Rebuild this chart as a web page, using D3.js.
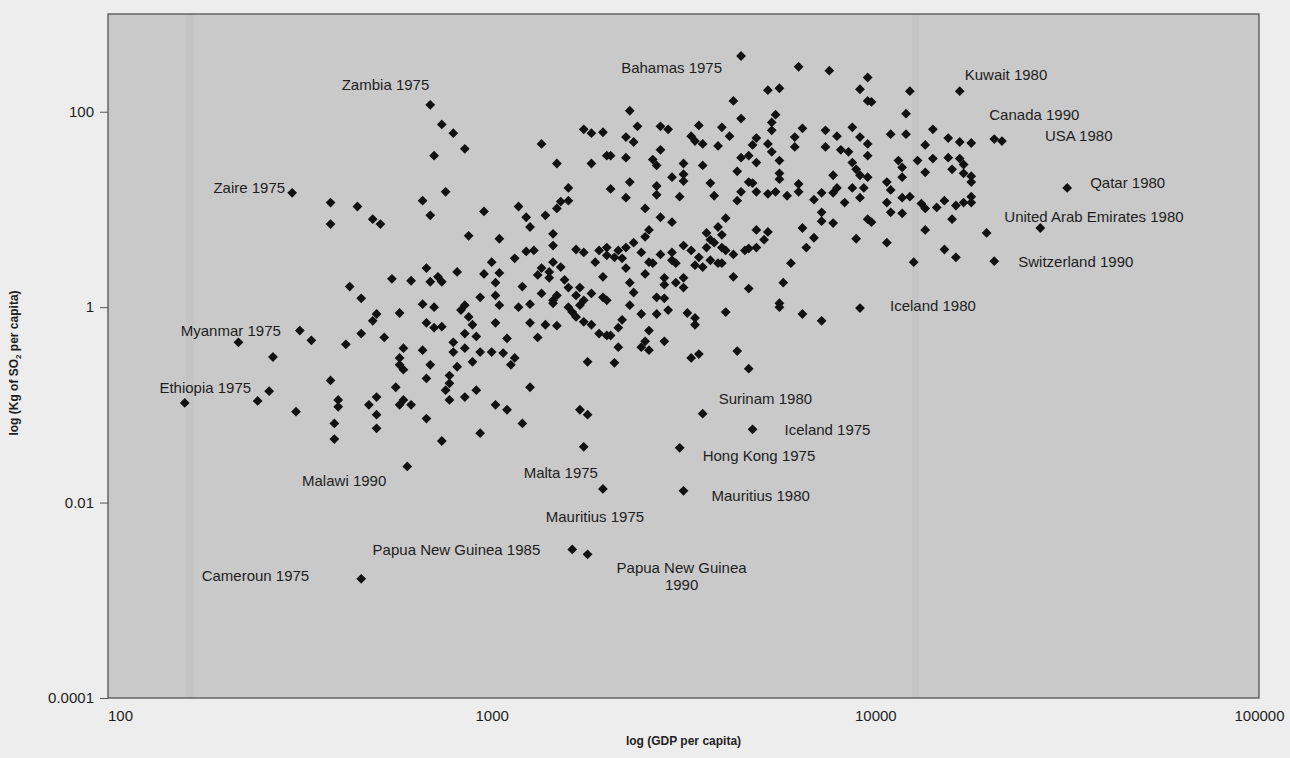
<!DOCTYPE html>
<html>
<head>
<meta charset="utf-8">
<script src="https://cdn.jsdelivr.net/npm/d3@7/dist/d3.min.js"></script>
<style>
  html, body { margin: 0; padding: 0; background: #ededed; }
  svg { display: block; }
  text { font-family: "Liberation Sans", Arial, Helvetica, sans-serif; fill: #1e1e1e; }
</style>
</head>
<body>
<svg id="chart" width="1290" height="758"></svg>
<script>
// log10 GDP per capita, log10 kg SO2 per capita, one pair per country-year
const countryYears = [
  [2.48,1.17],[2.58,1.07],[2.65,1.03],[2.69,0.90],[2.84,2.07],[2.87,1.87],[2.90,1.78],[2.93,1.62],
  [2.85,1.55],[3.13,1.67],[3.17,1.47],[3.24,1.82],[3.26,1.78],[3.29,1.79],[3.30,1.55],[3.26,1.47],
  [3.20,1.22],[3.31,1.21],[2.88,1.18],[2.82,1.09],[2.84,0.94],[2.98,0.98],[3.07,1.03],[3.09,0.92],
  [3.14,0.94],[3.18,1.08],[3.20,1.09],[3.17,1.01],[3.65,2.57],[3.80,2.46],[3.88,2.42],[3.72,2.22],
  [3.75,2.24],[3.63,2.11],[3.36,2.01],[3.65,1.93],[3.74,1.97],[3.38,1.85],[3.44,1.85],[3.46,1.82],
  [3.54,1.86],[3.60,1.84],[3.73,1.89],[3.73,1.81],[3.81,1.83],[3.87,1.81],[3.90,1.75],[3.35,1.74],
  [3.37,1.69],[3.52,1.75],[3.53,1.70],[3.55,1.67],[3.59,1.65],[3.62,1.75],[3.69,1.73],[3.68,1.66],
  [3.72,1.67],[3.79,1.74],[3.79,1.64],[3.87,1.64],[3.91,1.61],[3.31,1.55],[3.35,1.53],[3.44,1.61],
  [3.73,1.59],[3.42,1.51],[3.43,1.45],[3.50,1.47],[3.55,1.45],[3.65,1.53],[3.67,1.55],[3.69,1.48],
  [3.75,1.50],[3.64,1.39],[3.47,1.33],[3.50,1.36],[3.50,1.29],[3.57,1.27],[3.75,1.37],[3.75,1.31],
  [3.67,1.28],[3.68,1.27],[3.65,1.18],[3.69,1.18],[3.72,1.16],[3.74,1.18],[3.77,1.14],[3.80,1.26],
  [3.80,1.18],[3.89,1.35],[3.86,1.17],[3.89,1.17],[3.90,1.22],[3.92,1.07],[3.36,1.28],[3.43,1.24],
  [3.43,1.15],[3.49,1.13],[3.35,1.12],[3.58,1.14],[3.64,1.09],[3.40,1.01],[3.44,0.92],[3.61,0.91],
  [3.84,1.10],[3.86,0.97],[3.98,2.35],[3.96,2.23],[4.09,2.21],[4.22,2.21],[3.98,2.11],[3.99,2.10],
  [4.08,1.98],[3.94,1.84],[3.96,1.74],[4.04,1.77],[4.08,1.77],[4.15,1.82],[4.19,1.73],[4.22,1.69],
  [4.25,1.68],[4.31,1.72],[4.33,1.70],[3.98,1.67],[3.98,1.55],[4.13,1.66],[3.93,1.59],[3.94,1.48],
  [3.95,1.41],[4.06,1.50],[4.07,1.43],[4.11,1.50],[4.15,1.52],[4.19,1.53],[4.22,1.52],[4.23,1.46],
  [4.20,1.41],[4.13,1.38],[4.23,1.37],[4.25,1.34],[4.25,1.28],[3.96,1.35],[3.98,1.33],[4.03,1.28],
  [4.07,1.33],[3.94,1.22],[3.97,1.22],[4.04,1.20],[4.09,1.13],[4.07,1.12],[4.03,1.07],[3.96,1.12],
  [4.12,1.06],[4.13,1.01],[4.16,1.02],[4.18,1.09],[4.21,1.04],[4.23,1.07],[4.25,1.13],[4.25,1.07],
  [4.50,1.22],[4.04,0.97],[4.07,0.96],[3.98,0.90],[4.20,0.90],[3.99,0.87],[4.13,0.79],[4.29,0.76],
  [4.43,0.81],[3.95,0.70],[4.03,0.66],[4.18,0.59],[4.21,0.51],[4.10,0.46],[4.31,0.47],[3.96,-0.01],
  [3.47,0.87],[3.59,0.82],[3.56,0.76],[3.57,0.69],[3.60,0.74],[3.58,0.66],[3.56,0.61],[3.60,0.61],
  [3.61,0.58],[3.63,0.54],[3.41,0.79],[3.40,0.72],[3.37,0.66],[3.35,0.61],[3.33,0.58],[3.32,0.51],
  [3.34,0.50],[3.39,0.56],[3.41,0.46],[3.42,0.45],[3.44,0.54],[3.47,0.56],[3.47,0.48],[3.48,0.45],
  [3.50,0.63],[3.52,0.58],[3.54,0.51],[3.53,0.43],[3.55,0.41],[3.57,0.48],[3.59,0.45],[3.60,0.45],
  [3.69,0.79],[3.72,0.77],[3.71,0.69],[3.69,0.61],[3.67,0.60],[3.66,0.58],[3.81,0.81],[3.86,0.88],
  [3.89,0.86],[3.84,0.71],[3.82,0.61],[3.78,0.45],[3.35,0.40],[3.40,0.34],[3.45,0.30],[3.48,0.25],
  [3.50,0.30],[3.50,0.20],[3.45,0.23],[3.36,0.25],[3.37,0.15],[3.43,0.10],[3.45,0.09],[3.63,0.31],
  [3.67,0.19],[3.76,0.25],[3.75,0.04],[3.75,0.00],[3.36,0.02],[3.39,-0.07],[3.43,-0.07],[3.46,-0.03],
  [3.51,-0.06],[3.53,-0.11],[3.61,-0.05],[3.81,-0.07],[3.86,-0.14],[3.34,-0.13],[3.33,-0.21],[3.41,-0.24],
  [3.53,-0.18],[3.31,-0.29],[3.40,-0.35],[3.39,-0.41],[3.41,-0.44],[3.45,-0.35],[3.33,-0.41],[3.52,-0.52],
  [3.54,-0.48],[3.64,-0.45],[3.67,-0.63],[3.32,-0.57],[3.55,-1.09],[2.71,0.85],[2.94,0.73],[3.02,0.70],
  [3.10,0.82],[3.16,0.75],[3.16,0.63],[3.09,0.57],[3.11,0.58],[3.06,0.50],[3.22,0.59],[3.24,0.56],
  [3.28,0.58],[3.30,0.61],[3.30,0.53],[3.27,0.46],[3.16,0.46],[3.18,0.41],[3.13,0.40],[3.12,0.33],
  [3.15,0.36],[3.15,0.30],[3.19,0.28],[3.20,0.20],[3.23,0.20],[3.29,0.31],[3.00,0.46],[2.83,0.40],
  [2.74,0.29],[2.79,0.27],[2.86,0.31],[2.84,0.26],[2.87,0.26],[2.91,0.36],[2.98,0.34],[3.02,0.35],
  [3.01,0.25],[3.08,0.21],[2.97,0.10],[3.01,0.12],[3.02,0.02],[3.07,0.00],[3.10,0.03],[3.13,0.14],
  [3.16,0.07],[3.17,0.12],[3.16,0.04],[3.22,0.12],[3.24,0.07],[3.26,0.14],[3.29,0.10],[3.30,0.07],
  [3.23,0.02],[3.20,0.00],[3.21,-0.05],[3.22,-0.10],[2.82,0.03],[2.85,0.00],[2.93,0.02],[2.92,-0.03],
  [2.76,-0.06],[2.70,-0.07],[2.94,-0.10],[2.95,-0.18],[2.83,-0.16],[2.85,-0.21],[2.87,-0.20],[3.01,-0.16],
  [3.10,-0.16],[3.14,-0.18],[3.17,-0.19],[3.24,-0.15],[3.26,-0.18],[3.28,-0.27],[3.30,-0.29],[2.93,-0.27],
  [2.96,-0.30],[3.04,-0.32],[3.12,-0.31],[2.72,-0.31],[2.77,-0.42],[2.82,-0.44],[2.90,-0.36],[2.93,-0.42],
  [2.90,-0.46],[2.97,-0.46],[3.00,-0.46],[3.03,-0.47],[3.06,-0.52],[3.05,-0.59],[2.76,-0.52],[2.76,-0.59],
  [2.77,-0.64],[2.84,-0.59],[2.95,-0.56],[2.91,-0.61],[2.83,-0.73],[2.89,-0.70],[2.89,-0.78],[2.88,-0.85],
  [2.75,-0.82],[2.96,-0.85],[3.10,-0.82],[3.25,-0.56],[2.93,-0.92],[2.89,-0.95],[2.77,-0.95],[2.76,-1.00],
  [2.79,-1.00],[3.01,-1.00],[3.04,-1.05],[3.23,-1.05],[2.70,-0.92],[2.58,0.85],[2.63,0.21],[2.66,0.09],
  [2.69,-0.14],[2.66,-0.27],[2.62,-0.38],[2.50,-0.24],[2.53,-0.34],[2.34,-0.36],[2.43,-0.51],[2.58,-0.75],
  [2.42,-0.86],[2.39,-0.96],[2.20,-0.98],[2.60,-0.95],[2.60,-1.02],[2.49,-1.07],[2.68,-1.00],[2.59,-1.19],
  [2.59,-1.35],[2.70,-1.10],[2.70,-1.24],[2.66,-2.78],[2.83,-1.14],[2.87,-1.37],[2.97,-1.29],[3.08,-1.19],
  [3.25,-1.10],[3.24,-1.43],[2.78,-1.63],[3.29,-1.86],[3.21,-2.48],[3.25,-2.53],[3.68,-1.25],[3.49,-1.44],
  [3.50,-1.88]
];

// Named country-years: [text, logGdp, logSo2, anchor, dx, dy]
const annotations = [
  ["Zambia 1975", 2.84, 2.07, "end", -1, -20],
  ["Bahamas 1975", 3.65, 2.57, "end", -19, 11],
  ["Kuwait 1980", 4.22, 2.21, "start", 5, -17],
  ["Canada 1990", 4.31, 1.72, "start", -5, -25],
  ["USA 1980", 4.33, 1.70, "start", 43, -6],
  ["Qatar 1980", 4.50, 1.22, "start", 23, -5],
  ["United Arab Emirates 1980", 4.43, 0.81, "start", -36, -11],
  ["Switzerland 1990", 4.31, 0.47, "start", 24, 0],
  ["Iceland 1980", 3.96, -0.01, "start", 30, -3],
  ["Zaire 1975", 2.48, 1.17, "end", -7, -5],
  ["Myanmar 1975", 2.50, -0.24, "end", -19, 0],
  ["Ethiopia 1975", 2.42, -0.86, "end", -18, -4],
  ["Surinam 1980", 3.55, -1.09, "start", 16, -15],
  ["Iceland 1975", 3.68, -1.25, "start", 32, 0],
  ["Hong Kong 1975", 3.49, -1.44, "start", 23, 8],
  ["Malawi 1990", 2.78, -1.63, "end", -21, 14],
  ["Malta 1975", 3.29, -1.86, "end", -5, -16],
  ["Mauritius 1980", 3.50, -1.88, "start", 28, 5],
  ["Mauritius 1975", 3.29, -1.86, "middle", -8, 28],
  ["Papua New Guinea 1985", 3.21, -2.48, "end", -32, 0],
  ["Papua New Guinea", 3.25, -2.53, "middle", 94, 13],
  ["1990", 3.25, -2.53, "middle", 94, 30],
  ["Cameroun 1975", 2.66, -2.78, "end", -52, -3]
];

const gdpTicks = [100, 1000, 10000, 100000];
const so2Ticks = [0.0001, 0.01, 1, 100];
const xTitle = "log (GDP per capita)";

const svg = d3.select("#chart");
const plot = { left: 108, right: 1259, top: 14, bottom: 698 };

const x = d3.scaleLog().domain([100, 100000]).range([plot.left, plot.right]);
const y = d3.scaleLog().domain([0.0001, 1000]).range([plot.bottom, plot.top]);

// plot background
svg.append("rect")
  .attr("x", plot.left).attr("y", plot.top)
  .attr("width", plot.right - plot.left).attr("height", plot.bottom - plot.top)
  .attr("fill", "#c9c9c9");

// faint vertical bands in the printed panel
[[186, 8], [912, 7]].forEach(([bx, bw]) => {
  svg.append("rect")
    .attr("x", bx).attr("y", plot.top).attr("width", bw).attr("height", plot.bottom - plot.top)
    .attr("fill", "#b8b8b8").attr("opacity", 0.3);
});

// axes
const xAxis = d3.axisBottom(x).tickValues(gdpTicks).tickFormat(d3.format("d")).tickSize(0).tickPadding(12);
const yAxis = d3.axisLeft(y).tickValues(so2Ticks).tickFormat(d => String(d)).tickSize(8).tickPadding(6);

const gx = svg.append("g").attr("transform", `translate(0,${plot.bottom})`).call(xAxis);
const gy = svg.append("g").attr("transform", `translate(${plot.left},0)`).call(yAxis);
[gx, gy].forEach(g => {
  g.select(".domain").remove();
  g.selectAll("line").attr("stroke", "#555");
  g.selectAll("text").attr("font-size", 15).attr("fill", "#2a2a2a")
    .style("font-family", "'Liberation Sans', Arial, sans-serif");
});
// first GDP tick label sits just inside the corner
gx.selectAll("text").filter(d => d === 100).attr("dx", 12);

// frame
svg.append("rect")
  .attr("x", plot.left).attr("y", plot.top)
  .attr("width", plot.right - plot.left).attr("height", plot.bottom - plot.top)
  .attr("fill", "none").attr("stroke", "#4a4a4a").attr("stroke-width", 1.2);

// axis titles
svg.append("text")
  .attr("x", (plot.left + plot.right) / 2).attr("y", 745)
  .attr("text-anchor", "middle").attr("font-size", 12).attr("font-weight", "bold")
  .text(xTitle);

const yTitle = svg.append("text")
  .attr("transform", `translate(18,${(plot.top + plot.bottom) / 2 + 7}) rotate(-90)`)
  .attr("text-anchor", "middle").attr("font-size", 12).attr("font-weight", "bold");
yTitle.append("tspan").text("log (Kg of SO");
yTitle.append("tspan").attr("font-size", 8).attr("dy", 3).text("2");
yTitle.append("tspan").attr("dy", -3).text(" per capita)");

// country-year markers
const diamond = d3.symbol().type(d3.symbolSquare).size(48);
svg.append("g")
  .selectAll("path")
  .data(countryYears)
  .join("path")
  .attr("d", diamond)
  .attr("transform", d => `translate(${x(Math.pow(10, d[0]))},${y(Math.pow(10, d[1]))}) rotate(45)`)
  .attr("fill", "#111");

// labels
svg.append("g")
  .selectAll("text")
  .data(annotations)
  .join("text")
  .attr("x", d => x(Math.pow(10, d[1])) + d[4])
  .attr("y", d => y(Math.pow(10, d[2])) + d[5])
  .attr("text-anchor", d => d[3])
  .attr("dominant-baseline", "central")
  .attr("font-size", 15)
  .text(d => d[0]);
</script>
</body>
</html>
